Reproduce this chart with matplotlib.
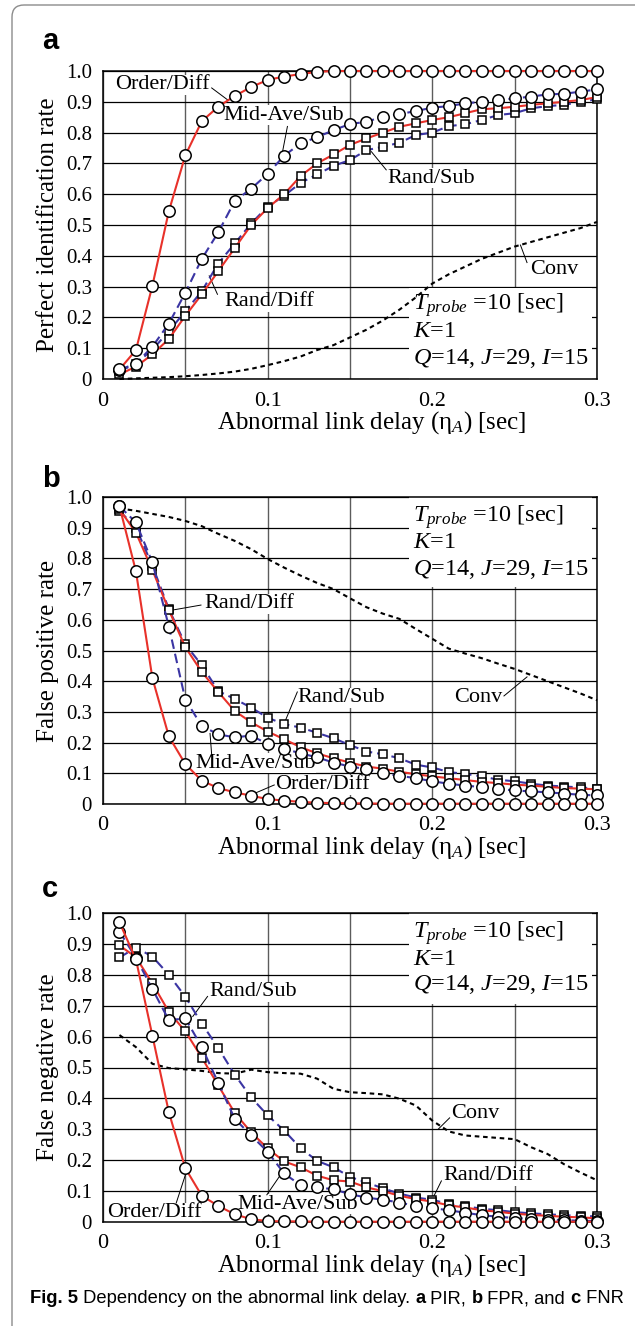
import matplotlib
matplotlib.use("Agg")
import matplotlib.pyplot as plt
from matplotlib.patches import Rectangle, FancyBboxPatch
from matplotlib.transforms import IdentityTransform

plt.rcParams["font.family"] = ["Liberation Serif", "DejaVu Serif"]
plt.rcParams["mathtext.fontset"] = "custom"
plt.rcParams["mathtext.rm"] = "Liberation Serif"
plt.rcParams["mathtext.it"] = "Liberation Serif:italic"
plt.rcParams["mathtext.bf"] = "Liberation Serif:bold"

# ---------------------------------------------------------------- data
delay = [0.01, 0.02, 0.03, 0.04, 0.05, 0.06, 0.07, 0.08, 0.09, 0.10,
         0.11, 0.12, 0.13, 0.14, 0.15, 0.16, 0.17, 0.18, 0.19, 0.20,
         0.21, 0.22, 0.23, 0.24, 0.25, 0.26, 0.27, 0.28, 0.29, 0.30]

# (a) perfect identification rate
pir_order_diff = [0.031, 0.094, 0.303, 0.545, 0.726, 0.837, 0.884, 0.919, 0.948, 0.971,
                  0.982, 0.990, 0.997, 1.0, 1.0, 1.0, 1.0, 1.0, 1.0, 1.0,
                  1.0, 1.0, 1.0, 1.0, 1.0, 1.0, 1.0, 1.0, 1.0, 1.0]
pir_midave_sub = [0.030, 0.050, 0.105, 0.180, 0.280, 0.390, 0.476, 0.578, 0.618, 0.666,
                  0.725, 0.765, 0.785, 0.808, 0.828, 0.835, 0.852, 0.860, 0.870, 0.881,
                  0.886, 0.895, 0.900, 0.906, 0.911, 0.917, 0.924, 0.926, 0.933, 0.940]
pir_rand_diff = [0.015, 0.040, 0.080, 0.130, 0.205, 0.275, 0.350, 0.425, 0.500, 0.555,
                 0.600, 0.659, 0.700, 0.729, 0.760, 0.781, 0.800, 0.819, 0.830, 0.841,
                 0.850, 0.863, 0.876, 0.879, 0.884, 0.890, 0.895, 0.900, 0.906, 0.915]
pir_rand_sub = [0.025, 0.050, 0.095, 0.155, 0.220, 0.285, 0.375, 0.440, 0.505, 0.560,
                0.595, 0.637, 0.664, 0.692, 0.711, 0.743, 0.754, 0.767, 0.792, 0.800,
                0.821, 0.827, 0.841, 0.857, 0.863, 0.879, 0.886, 0.890, 0.900, 0.908]
pir_conv = [0.000, 0.002, 0.004, 0.006, 0.009, 0.013, 0.018, 0.024, 0.033, 0.045,
            0.058, 0.073, 0.094, 0.110, 0.135, 0.160, 0.190, 0.225, 0.265, 0.310,
            0.340, 0.365, 0.390, 0.410, 0.430, 0.445, 0.460, 0.475, 0.490, 0.510]

# (b) false positive rate
fpr_order_diff = [0.970, 0.758, 0.410, 0.220, 0.130, 0.076, 0.052, 0.038, 0.027, 0.016,
                  0.011, 0.007, 0.004, 0.003, 0.002, 0.002, 0.001, 0.001, 0.001, 0.001,
                  0.001, 0.001, 0.001, 0.001, 0.001, 0.001, 0.001, 0.001, 0.001, 0.001]
fpr_midave_sub = [0.970, 0.917, 0.787, 0.578, 0.340, 0.254, 0.227, 0.217, 0.223, 0.195,
                  0.180, 0.165, 0.152, 0.135, 0.122, 0.114, 0.100, 0.092, 0.084, 0.074,
                  0.066, 0.060, 0.055, 0.049, 0.044, 0.041, 0.038, 0.034, 0.030, 0.028]
fpr_rand_diff = [0.960, 0.884, 0.762, 0.632, 0.511, 0.430, 0.365, 0.303, 0.266, 0.236,
                 0.211, 0.185, 0.165, 0.149, 0.135, 0.122, 0.115, 0.105, 0.097, 0.090,
                 0.084, 0.078, 0.072, 0.068, 0.063, 0.060, 0.056, 0.052, 0.050, 0.048]
fpr_rand_sub = [0.955, 0.900, 0.776, 0.635, 0.520, 0.452, 0.368, 0.342, 0.314, 0.281,
                0.260, 0.249, 0.232, 0.214, 0.192, 0.171, 0.162, 0.149, 0.128, 0.119,
                0.104, 0.098, 0.090, 0.079, 0.074, 0.066, 0.060, 0.057, 0.054, 0.050]
fpr_conv = [0.963, 0.955, 0.945, 0.935, 0.922, 0.905, 0.880, 0.857, 0.830, 0.798,
            0.770, 0.744, 0.720, 0.700, 0.670, 0.641, 0.620, 0.603, 0.570, 0.538,
            0.506, 0.490, 0.475, 0.457, 0.440, 0.420, 0.400, 0.380, 0.360, 0.338]

# (c) false negative rate
fnr_order_diff = [0.970, 0.850, 0.603, 0.355, 0.174, 0.085, 0.052, 0.025, 0.009, 0.003,
                  0.002, 0.002, 0.001, 0.001, 0.001, 0.001, 0.001, 0.001, 0.001, 0.001,
                  0.001, 0.001, 0.001, 0.001, 0.001, 0.001, 0.001, 0.001, 0.001, 0.001]
fnr_midave_sub = [0.940, 0.855, 0.754, 0.653, 0.659, 0.566, 0.450, 0.334, 0.280, 0.227,
                  0.157, 0.119, 0.112, 0.106, 0.090, 0.079, 0.072, 0.063, 0.052, 0.045,
                  0.038, 0.030, 0.022, 0.017, 0.013, 0.010, 0.008, 0.006, 0.004, 0.003]
fnr_rand_diff = [0.895, 0.857, 0.772, 0.680, 0.617, 0.532, 0.442, 0.353, 0.290, 0.238,
                 0.196, 0.177, 0.150, 0.135, 0.131, 0.112, 0.100, 0.085, 0.074, 0.066,
                 0.054, 0.047, 0.038, 0.033, 0.027, 0.023, 0.020, 0.017, 0.015, 0.012]
fnr_rand_sub = [0.856, 0.888, 0.859, 0.800, 0.729, 0.642, 0.563, 0.477, 0.403, 0.345,
                0.296, 0.239, 0.198, 0.177, 0.146, 0.128, 0.109, 0.092, 0.079, 0.072,
                0.058, 0.051, 0.043, 0.038, 0.032, 0.028, 0.025, 0.022, 0.020, 0.018]
fnr_conv = [0.605, 0.566, 0.512, 0.498, 0.494, 0.489, 0.482, 0.480, 0.493, 0.485,
            0.482, 0.480, 0.464, 0.431, 0.420, 0.417, 0.413, 0.399, 0.377, 0.328,
            0.293, 0.280, 0.276, 0.272, 0.268, 0.242, 0.220, 0.187, 0.160, 0.135]

x_ticks = [0, 0.1, 0.2, 0.3]
x_tick_labels = ["0", "0.1", "0.2", "0.3"]
y_ticks = [0, 0.1, 0.2, 0.3, 0.4, 0.5, 0.6, 0.7, 0.8, 0.9, 1.0]
y_tick_labels = ["0", "0.1", "0.2", "0.3", "0.4", "0.5", "0.6", "0.7", "0.8", "0.9", "1.0"]

x_label = r"Abnormal link delay (η$_{A}$) [sec]"
y_labels = ["Perfect identification rate", "False positive rate", "False negative rate"]
panel_letters = ["a", "b", "c"]
info_lines = [r"$T_{probe}$ =10 [sec]", r"$K$=1", r"$Q$=14, $J$=29, $I$=15"]
caption = [("Fig. 5", "bold"), (" Dependency on the abnormal link delay. ", "normal"),
           ("a", "bold"), (" PIR, ", "normal"), ("b", "bold"), (" FPR, and ", "normal"),
           ("c", "bold"), (" FNR", "normal")]

# ---------------------------------------------------------------- styles
RED = "#e8312a"
BLUE = "#3b35a3"
series_style = {
    "Conv": dict(color="black", lw=1.5, dashes=(2.2, 1.8), marker=None),
    "Rand/Sub": dict(color=BLUE, lw=1.5, dashes=(4.6, 2.4), marker="s", ms=6.2),
    "Rand/Diff": dict(color=RED, lw=1.5, ls="-", marker="s", ms=6.2),
    "Mid-Ave/Sub": dict(color=BLUE, lw=1.5, dashes=(4.6, 2.4), marker="o", ms=8.2),
    "Order/Diff": dict(color=RED, lw=1.5, ls="-", marker="o", ms=8.2),
}

panels = [
    dict(series={"Conv": pir_conv, "Rand/Sub": pir_rand_sub, "Rand/Diff": pir_rand_diff,
                 "Mid-Ave/Sub": pir_midave_sub, "Order/Diff": pir_order_diff},
         box=(0.186, 0.0, 0.297, 0.296), info_y=[0.240, 0.154, 0.067],
         labels=[("Order/Diff", (0.036, 0.955), (0.066, 0.945), (0.076, 0.905)),
                 ("Mid-Ave/Sub", (0.110, 0.857), (0.112, 0.820), (0.109, 0.737)),
                 ("Rand/Diff", (0.101, 0.251), (0.0695, 0.275), (0.0645, 0.335)),
                 ("Rand/Sub", (0.1995, 0.652), (0.172, 0.679), (0.163, 0.738)),
                 ("Conv", (0.274, 0.354), (0.2575, 0.378), (0.2535, 0.435))],
         rect=(103, 71, 597, 379), letter_y=49),
    dict(series={"Conv": fpr_conv, "Rand/Sub": fpr_rand_sub, "Rand/Diff": fpr_rand_diff,
                 "Mid-Ave/Sub": fpr_midave_sub, "Order/Diff": fpr_order_diff},
         box=(0.186, 0.706, 0.297, 1.0), info_y=[0.933, 0.852, 0.765],
         labels=[("Rand/Diff", (0.089, 0.652), (0.0595, 0.648), (0.0425, 0.632)),
                 ("Rand/Sub", (0.1445, 0.346), (0.118, 0.365), (0.110, 0.262)),
                 ("Conv", (0.228, 0.346), (0.2435, 0.352), (0.2575, 0.414)),
                 ("Mid-Ave/Sub", (0.0925, 0.133), (0.066, 0.160), (0.065, 0.230)),
                 ("Order/Diff", (0.133, 0.063), (0.104, 0.062), (0.0905, 0.031))],
         rect=(103, 497, 597, 804), letter_y=487),
    dict(series={"Conv": fnr_conv, "Rand/Sub": fnr_rand_sub, "Rand/Diff": fnr_rand_diff,
                 "Mid-Ave/Sub": fnr_midave_sub, "Order/Diff": fnr_order_diff},
         box=(0.186, 0.706, 0.297, 1.0), info_y=[0.935, 0.850, 0.767],
         labels=[("Rand/Sub", (0.0915, 0.745), (0.0635, 0.730), (0.0545, 0.665)),
                 ("Conv", (0.226, 0.350), (0.2105, 0.337), (0.2035, 0.300)),
                 ("Rand/Diff", (0.234, 0.150), (0.2055, 0.133), (0.2005, 0.079)),
                 ("Mid-Ave/Sub", (0.1185, 0.057), (0.0995, 0.088), (0.1085, 0.158)),
                 ("Order/Diff", (0.031, 0.030), (0.0445, 0.062), (0.0505, 0.160))],
         rect=(103, 913, 597, 1222), letter_y=897),
]

# ---------------------------------------------------------------- figure
W, H, DPI = 635, 1326, 100
fig = plt.figure(figsize=(W / DPI, H / DPI), dpi=DPI, facecolor="white")

# rounded frame around the whole figure
frame = FancyBboxPatch((0.12, -0.5), 8.0, (H - 5) / DPI + 0.5,
                       boxstyle="round,pad=0,rounding_size=0.12",
                       transform=fig.dpi_scale_trans, fc="none",
                       ec="#8c8c8c", lw=1.0)
fig.add_artist(frame)

for i, p in enumerate(panels):
    left, top, right, bottom = p["rect"]
    ax = fig.add_axes([left / W, 1 - bottom / H, (right - left) / W, (bottom - top) / H])
    ax.set_xlim(0, 0.3)
    ax.set_ylim(0, 1.0)
    ax.set_xticks(x_ticks)
    ax.set_xticklabels(x_tick_labels, fontsize=16)
    ax.set_xticks([0.05, 0.15, 0.25], minor=True)
    ax.set_yticks(y_ticks)
    ax.set_yticklabels(y_tick_labels, fontsize=15)
    ax.tick_params(which="both", length=0)
    ax.tick_params(axis="x", pad=9)
    ax.tick_params(axis="y", pad=8)
    ax.set_axisbelow(True)
    ax.yaxis.grid(True, color="black", lw=0.9)
    ax.xaxis.grid(True, which="both", color="#5c5c5c", lw=1.0)
    for s in ax.spines.values():
        s.set_linewidth(1.1)
        s.set_color("black")

    # white panel holding the simulation parameters
    x0, y0, x1, y1 = p["box"]
    ax.add_patch(Rectangle((x0, y0), x1 - x0, y1 - y0, fc="white", ec="none", zorder=1))
    for line, yy in zip(info_lines, p["info_y"]):
        ax.text(0.188, yy, line, fontsize=17.5, ha="left", va="center", zorder=1.2)

    for name, vals in p["series"].items():
        st = dict(series_style[name])
        marker = st.pop("marker")
        ms = st.pop("ms", None)
        kw = dict(zorder=3, clip_on=False)
        if marker:
            kw.update(marker=marker, ms=ms, mfc="white", mec="black", mew=1.1)
        ax.plot(delay, vals, **st, **kw)

    for text, tpos, a, b in p["labels"]:
        ax.plot([a[0], b[0]], [a[1], b[1]], color="black", lw=0.7, zorder=1.6)
        ax.text(tpos[0], tpos[1], text, fontsize=16, ha="center", va="center", zorder=1.5,
                bbox=dict(boxstyle="square,pad=0.02", fc="white", ec="none"))

    ax.set_xlabel(x_label, fontsize=18, va="center")
    ax.xaxis.set_label_coords(0.543, -44 / (bottom - top))
    ax.set_ylabel(y_labels[i], fontsize=18, va="center")
    ax.yaxis.set_label_coords(-55 / (right - left), 0.5)

    fig.text(42 / W, 1 - p["letter_y"] / H, panel_letters[i], fontsize=21,
             fontweight="bold", family=["Liberation Sans", "DejaVu Sans"],
             ha="left", va="baseline")

# caption: regular and bold runs laid out one after another on a common baseline
cap_font = ["Liberation Sans Narrow", "Liberation Sans", "DejaVu Sans"]
renderer = fig.canvas.get_renderer()
x_px = 30
for s, w in caption:
    run = fig.text(x_px, H - 1303, s, fontsize=13.2, fontweight=w, family=cap_font,
                   ha="left", va="baseline", transform=IdentityTransform())
    x_px += run.get_window_extent(renderer).width

fig.savefig("out.png", dpi=DPI, facecolor="white")
